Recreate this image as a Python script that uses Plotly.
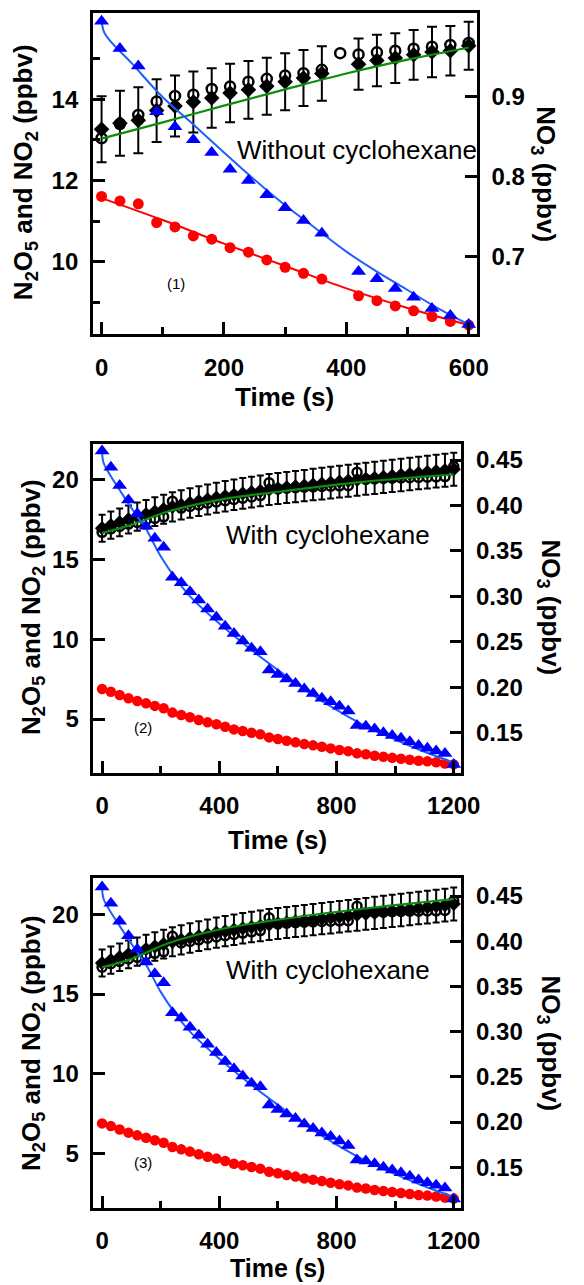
import plotly.graph_objects as go

# ---------------- Panel 1 data (without cyclohexane) ----------------
p1_t = [0, 30, 60, 90, 120, 150, 180, 210, 240, 270, 300, 330, 360, 420, 450, 480, 510, 540, 570, 600]
p1_t_circ = [0, 30, 60, 90, 120, 150, 180, 210, 240, 270, 300, 330, 360, 390, 420, 450, 480, 510, 540, 570, 600]
p1_n2o5 = [11.61, 11.50, 11.43, 10.97, 10.86, 10.64, 10.56, 10.35, 10.24, 10.05, 9.87, 9.72, 9.58,
           9.17, 9.05, 8.92, 8.80, 8.66, 8.54, 8.45]
p1_no3 = [0.994, 0.960, 0.938, 0.881, 0.862, 0.846, 0.830, 0.809, 0.795, 0.777, 0.761, 0.745, 0.729,
          0.681, 0.672, 0.660, 0.649, 0.635, 0.626, 0.615]
p1_no2_diam = [13.26, 13.41, 13.48, 13.72, 13.83, 13.93, 14.03, 14.15, 14.23, 14.32, 14.43, 14.52, 14.63,
               14.86, 14.95, 15.01, 15.09, 15.16, 15.19, 15.31]
p1_no2_err = [0.81, 0.80, 0.81, 0.77, 0.75, 0.75, 0.73, 0.72, 0.71, 0.70, 0.70, 0.69, 0.67,
              0.63, 0.63, 0.61, 0.61, 0.62, 0.61, 0.59]
p1_no2_circ = [13.04, 13.39, 13.61, 13.94, 14.08, 14.11, 14.25, 14.31, 14.43, 14.50, 14.58, 14.64, 14.72,
               15.13, 15.10, 15.15, 15.19, 15.24, 15.29, 15.33, 15.38]
p1_fit_t = [0, 100, 200, 300, 400, 500, 600]
p1_fit_n2o5 = [11.57, 11.03, 10.45, 9.90, 9.35, 8.87, 8.45]
p1_fit_no2 = [13.03, 13.43, 13.84, 14.24, 14.63, 14.97, 15.27]
p1_fit_no3_t = [0, 5, 50, 100, 150, 200, 250, 300, 350, 400, 450, 500, 550, 600]
p1_fit_no3 = [0.998, 0.979, 0.941, 0.899, 0.865, 0.830, 0.796, 0.764, 0.735, 0.706, 0.681, 0.658, 0.635, 0.615]
p1_left_ticks = [10, 12, 14]
p1_left_minor = [9, 11, 13, 15]
p1_right_ticks = [0.7, 0.8, 0.9]

# ---------------- Panel 2 data (with cyclohexane) ----------------
p2_t = [0, 30, 60, 90, 120, 150, 180, 210, 240, 270, 300, 330, 360, 390, 420, 450, 480, 510, 540, 570,
        600, 630, 660, 690, 720, 750, 780, 810, 840, 870, 900, 930, 960, 990, 1020, 1050, 1080, 1110,
        1140, 1170, 1200]
p2_n2o5 = [6.88, 6.71, 6.50, 6.30, 6.13, 5.98, 5.82, 5.67, 5.40, 5.25, 5.11, 4.94, 4.79, 4.67, 4.52,
           4.35, 4.25, 4.14, 4.04, 3.85, 3.75, 3.64, 3.54, 3.43, 3.35, 3.26, 3.16, 3.06, 2.99, 2.85,
           2.79, 2.70, 2.64, 2.57, 2.51, 2.45, 2.39, 2.35, 2.29, 2.22, 2.16]
p2_no3 = [0.460, 0.442, 0.422, 0.406, 0.391, 0.377, 0.364, 0.354, 0.321, 0.315, 0.305, 0.296, 0.286,
          0.277, 0.267, 0.259, 0.251, 0.243, 0.239, 0.219, 0.214, 0.209, 0.204, 0.198, 0.193, 0.188,
          0.184, 0.179, 0.174, 0.158, 0.157, 0.154, 0.150, 0.147, 0.144, 0.140, 0.136, 0.133, 0.130,
          0.127, 0.115]
p2_no2_diam = [16.94, 17.13, 17.31, 17.49, 17.66, 17.82, 17.98, 18.13, 18.28, 18.40, 18.52, 18.63, 18.74,
               18.85, 18.94, 19.03, 19.12, 19.20, 19.28, 19.36, 19.43, 19.49, 19.55, 19.61, 19.67, 19.73,
               19.79, 19.85, 19.91, 19.97, 20.03, 20.09, 20.15, 20.21, 20.27, 20.33, 20.39, 20.45, 20.51,
               20.57, 20.63]
p2_no2_circ = [16.68, 16.90, 17.05, 17.20, 17.30, 17.45, 17.55, 17.65, 18.62, 18.20, 18.30, 18.40, 18.50,
               18.58, 18.66, 18.74, 18.82, 18.90, 18.98, 19.78, 19.40, 19.44, 19.48, 19.50, 19.53, 19.55,
               19.57, 19.59, 19.60, 20.44, 20.00, 20.03, 20.05, 20.07, 20.09, 20.10, 20.12, 20.13, 20.15,
               20.17, 20.80]
p2_fit_no2_t = [0, 100, 228, 404, 600, 890, 1200]
p2_fit_no2 = [16.64, 17.16, 18.00, 18.73, 19.22, 19.84, 20.30]
p2_fit_no3_t = [0, 5, 30, 60, 90, 120, 150, 200, 250, 300, 400, 500, 600, 700, 800, 900, 1000, 1100, 1200]
p2_fit_no3 = [0.458, 0.447, 0.432, 0.417, 0.402, 0.388, 0.374, 0.344, 0.320, 0.300, 0.270, 0.2435,
              0.219, 0.1955, 0.175, 0.157, 0.1425, 0.129, 0.117]

# ---------------- Panel 3 data (with cyclohexane) ----------------
p3_t = list(p2_t)
p3_n2o5 = [6.88, 6.71, 6.50, 6.30, 6.13, 5.98, 5.82, 5.67, 5.40, 5.25, 5.11, 4.94, 4.79, 4.67, 4.52,
           4.35, 4.25, 4.14, 4.04, 3.85, 3.75, 3.64, 3.54, 3.43, 3.35, 3.26, 3.16, 3.06, 2.99, 2.85,
           2.79, 2.70, 2.64, 2.57, 2.51, 2.45, 2.39, 2.35, 2.29, 2.22, 2.16]
p3_no3 = [0.460, 0.442, 0.422, 0.406, 0.391, 0.377, 0.364, 0.354, 0.321, 0.315, 0.305, 0.296, 0.286,
          0.277, 0.267, 0.259, 0.251, 0.243, 0.239, 0.219, 0.214, 0.209, 0.204, 0.198, 0.193, 0.188,
          0.184, 0.179, 0.174, 0.158, 0.157, 0.154, 0.150, 0.147, 0.144, 0.140, 0.136, 0.133, 0.130,
          0.127, 0.115]
p3_no2_diam = [16.94, 17.13, 17.31, 17.49, 17.66, 17.82, 17.98, 18.13, 18.28, 18.40, 18.52, 18.63, 18.74,
               18.85, 18.94, 19.03, 19.12, 19.20, 19.28, 19.36, 19.43, 19.49, 19.55, 19.61, 19.67, 19.73,
               19.79, 19.85, 19.91, 19.97, 20.03, 20.09, 20.15, 20.21, 20.27, 20.33, 20.39, 20.45, 20.51,
               20.57, 20.65]
p3_no2_circ = [16.68, 16.90, 17.05, 17.20, 17.30, 17.45, 17.55, 17.65, 18.62, 18.20, 18.30, 18.40, 18.50,
               18.58, 18.66, 18.74, 18.82, 18.90, 18.98, 19.78, 19.40, 19.44, 19.48, 19.50, 19.53, 19.55,
               19.57, 19.59, 19.60, 20.50, 20.10, 20.12, 20.14, 20.16, 20.18, 20.19, 20.20, 20.21, 20.22,
               20.24, 20.85]
p3_fit_no2_t = [0, 100, 228, 400, 600, 890, 1200]
p3_fit_no2 = [16.68, 17.20, 18.20, 19.05, 19.66, 20.35, 20.95]
p3_fit_no3_t = list(p2_fit_no3_t)
p3_fit_no3 = list(p2_fit_no3)

# ---------------- styling ----------------
W, H = 584, 1285
FONT = "Liberation Sans, Arial, Helvetica, sans-serif"
RED = "#ff0000"
BLUE_M = "#0000ff"
BLUE_L = "#1f5fff"
GREEN = "#0a8f0a"
AXW = 2.5


def px(x):
    return x / W


def py(y):
    return 1 - y / H


fig = go.Figure()


def add_panel(xk, yl, yr, t_d, diam, err, t_c, circ, fit_t2, fit_no2, t_r, n2o5, fit_t5, fit_n2o5,
              t_b, no3, fit_t3, fit_no3, err_pct=None, rsize=11, tsize=13, csize=10, dsize=12, capw=5):
    if err_pct is None:
        ey = dict(type="data", array=err, color="black", thickness=2, width=capw, visible=True)
    else:
        ey = dict(type="percent", value=err_pct, color="black", thickness=2, width=capw, visible=True)
    fig.add_trace(go.Scatter(x=t_d, y=diam, mode="markers", xaxis=xk, yaxis=yl,
                             marker=dict(symbol="diamond", size=dsize, color="black"),
                             error_y=ey, showlegend=False))
    fig.add_trace(go.Scatter(x=t_c, y=circ, mode="markers", xaxis=xk, yaxis=yl,
                             marker=dict(symbol="circle-open", size=csize, color="black",
                                         line=dict(width=2.5, color="black")), showlegend=False))
    fig.add_trace(go.Scatter(x=fit_t2, y=fit_no2, mode="lines", xaxis=xk, yaxis=yl,
                             line=dict(color=GREEN, width=2.2, shape="spline"), showlegend=False))
    fig.add_trace(go.Scatter(x=t_r, y=n2o5, mode="markers", xaxis=xk, yaxis=yl,
                             marker=dict(symbol="circle", size=rsize, color=RED), showlegend=False))
    if fit_t5 is not None:
        fig.add_trace(go.Scatter(x=fit_t5, y=fit_n2o5, mode="lines", xaxis=xk, yaxis=yl,
                                 line=dict(color=RED, width=2, shape="spline"), showlegend=False))
    fig.add_trace(go.Scatter(x=fit_t3, y=fit_no3, mode="lines", xaxis=xk, yaxis=yr,
                             line=dict(color=BLUE_L, width=2, shape="spline"), showlegend=False))
    fig.add_trace(go.Scatter(x=t_b, y=no3, mode="markers", xaxis=xk, yaxis=yr,
                             marker=dict(symbol="triangle-up", size=tsize, color=BLUE_M), showlegend=False))


add_panel("x", "y", "y2", p1_t, p1_no2_diam, p1_no2_err, p1_t_circ, p1_no2_circ, p1_fit_t, p1_fit_no2,
          p1_t, p1_n2o5, p1_fit_t, p1_fit_n2o5, p1_t, p1_no3, p1_fit_no3_t, p1_fit_no3,
          rsize=11, tsize=13, csize=10, dsize=12, capw=5)
add_panel("x2", "y3", "y4", p2_t, p2_no2_diam, None, p2_t, p2_no2_circ, p2_fit_no2_t, p2_fit_no2,
          p2_t, p2_n2o5, None, None, p2_t, p2_no3, p2_fit_no3_t, p2_fit_no3, err_pct=5,
          rsize=10.5, tsize=13, csize=9, dsize=11, capw=3.5)
add_panel("x3", "y5", "y6", p3_t, p3_no2_diam, None, p3_t, p3_no2_circ, p3_fit_no2_t, p3_fit_no2,
          p3_t, p3_n2o5, None, None, p3_t, p3_no3, p3_fit_no3_t, p3_fit_no3, err_pct=5,
          rsize=10.5, tsize=13, csize=9, dsize=11, capw=3.5)

tickfont = dict(family=FONT, size=24, color="black", weight="bold")


def xax(dom, rng, anchor, dtick, mdtick):
    return dict(domain=dom, range=rng, anchor=anchor, showline=True, mirror=True, linecolor="black",
                linewidth=AXW, ticks="inside", ticklen=12, tickwidth=AXW, tickcolor="black",
                tick0=0, dtick=dtick, showgrid=False, zeroline=False, tickfont=tickfont,
                ticklabelstandoff=10,
                minor=dict(ticks="inside", ticklen=7, tickwidth=AXW, tickcolor="black", dtick=mdtick,
                           showgrid=False))


def yax(dom, rng, anchor, dtick=None, tickvals=None, minorvals=None, side="left", overlay=None, fmt=None):
    d = dict(range=rng, anchor=anchor, side=side, showline=True, linecolor="black", linewidth=AXW,
             ticks="inside", ticklen=12, tickwidth=AXW, tickcolor="black",
             showgrid=False, zeroline=False, tickfont=tickfont, ticklabelstandoff=7)
    if tickvals is not None:
        d["tickmode"] = "array"
        d["tickvals"] = tickvals
    else:
        d["tick0"] = 0
        d["dtick"] = dtick
    if dom is not None:
        d["domain"] = dom
    if overlay is not None:
        d["overlaying"] = overlay
    if fmt is not None:
        d["tickformat"] = fmt
    if minorvals is not None:
        d["minor"] = dict(ticks="inside", ticklen=7, tickwidth=AXW, tickcolor="black",
                          tickmode="array", tickvals=minorvals, showgrid=False)
    return d


# panel geometry (pixels)
P1 = dict(l=96, r=493, t=13.3, b=334)
P2 = dict(l=96.5, r=477, t=444, b=772.7)
P3 = dict(l=96.5, r=477, t=878.3, b=1207.7)

fig.update_layout(
    width=W, height=H, margin=dict(l=0, r=0, t=0, b=0),
    paper_bgcolor="white", plot_bgcolor="white", showlegend=False,
    xaxis=xax([px(P1["l"]), px(P1["r"])], [-14.2, 613.5], "y", 200, 100),
    yaxis=yax([py(P1["b"]), py(P1["t"])], [8.23, 16.11], "x", tickvals=p1_left_ticks, minorvals=p1_left_minor),
    yaxis2=yax(None, [0.603, 1.004], "x", tickvals=p1_right_ticks, side="right", overlay="y", fmt=".1f"),
    xaxis2=xax([px(P2["l"]), px(P2["r"])], [-29.75, 1226.4], "y3", 400, 200),
    yaxis3=yax([py(P2["b"]), py(P2["t"])], [1.64, 22.21], "x2", dtick=5),
    yaxis4=yax(None, [0.106, 0.4676], "x2", dtick=0.05, side="right", overlay="y3", fmt=".2f"),
    xaxis3=xax([px(P3["l"]), px(P3["r"])], [-29.75, 1226.4], "y5", 400, 200),
    yaxis5=yax([py(P3["b"]), py(P3["t"])], [1.59, 22.26], "x3", dtick=5),
    yaxis6=yax(None, [0.1053, 0.4696], "x3", dtick=0.05, side="right", overlay="y5", fmt=".2f"),
)

ann = []


def text(x, y, s, size, bold=False, angle=0):
    ann.append(dict(x=px(x), y=py(y), xref="paper", yref="paper", text=s, showarrow=False,
                    textangle=angle, xanchor="center", yanchor="middle",
                    font=dict(family=FONT, size=size, color="black", weight="bold" if bold else "normal")))


left_title = "N<sub>2</sub>O<sub>5</sub> and NO<sub>2</sub> (ppbv)"
right_title = "NO<sub>3</sub> (ppbv)"

# panel 1
text(369, 150, "Without cyclohexane", 26)
text(182, 283, "(1)", 15)
text(294, 397, "Time (s)", 26, bold=True)
text(26, 172, left_title, 26, bold=True, angle=-90)
text(562, 174, right_title, 26, bold=True, angle=90)
# panel 2
text(339, 535, "With cyclohexane", 26)
text(148, 727, "(2)", 15)
text(287, 840, "Time (s)", 26, bold=True)
text(33, 607, left_title, 26, bold=True, angle=-90)
text(569, 608, right_title, 26, bold=True, angle=90)
# panel 3
text(339, 970, "With cyclohexane", 26)
text(148, 1162, "(3)", 15)
text(287, 1268, "Time (s)", 25, bold=True)
text(33, 1043, left_title, 26, bold=True, angle=-90)
text(569, 1044, right_title, 26, bold=True, angle=90)

fig.update_layout(annotations=ann)
fig.write_html(
    "out.html", config={"displayModeBar": False},
    post_script=("document.documentElement.style.margin='0';document.documentElement.style.overflow='hidden';"
                 "document.body.style.margin='0';document.body.style.padding='0';"
                 "document.body.style.overflow='hidden';"))
